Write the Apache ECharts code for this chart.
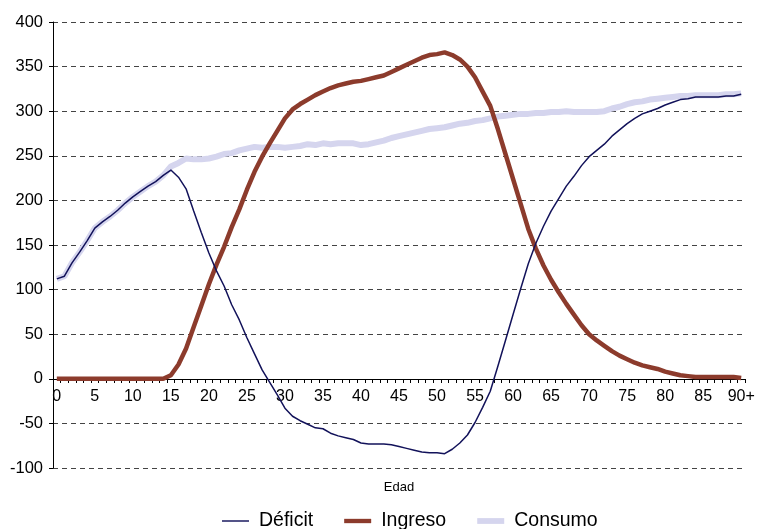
<!DOCTYPE html>
<html>
<head>
<meta charset="utf-8">
<script src="https://cdn.jsdelivr.net/npm/echarts@6/dist/echarts.min.js"></script>
<style>
  html, body { margin: 0; padding: 0; background: #fff; }
  #chart { width: 757px; height: 529px; }
</style>
</head>
<body>
<div id="chart"></div>
<script>
const ages = [];
for (let a = 0; a <= 90; a++) ages.push(a === 90 ? "90+" : String(a));

const consumo = [
  112, 115, 130, 142, 155, 169, 176, 182, 189, 197,
  204, 210, 216, 221, 228, 238, 242, 247, 246, 246,
  247, 249, 252, 253, 256, 258, 260, 259, 260, 260,
  259, 260, 261, 263, 262, 264, 263, 264, 264, 264,
  262, 263, 265, 267, 270, 272, 274, 276, 278, 280,
  281, 282, 284, 286, 287, 289, 290, 292, 294, 295,
  296, 297, 297, 298, 298, 299, 299, 300, 299, 299,
  299, 299, 300, 303, 305, 308, 310, 311, 313, 314,
  315, 316, 317, 317, 318, 318, 318, 318, 319, 319,
  320
];

const ingreso = [
  0, 0, 0, 0, 0, 0, 0, 0, 0, 0,
  0, 0, 0, 0, 0, 4, 16, 34, 58, 82,
  106, 128, 148, 170, 190, 212, 232, 249, 264, 278,
  292, 302, 308, 313, 318, 322, 326, 329, 331, 333,
  334, 336, 338, 340, 344, 348, 352, 356, 360, 363,
  364, 366, 363, 358, 350, 338, 322, 306, 280, 252,
  224, 196, 168, 146, 127, 111, 97, 84, 72, 60,
  50, 43, 37, 31, 26, 22, 18, 15, 13, 11,
  8, 6, 4, 3, 2, 2, 2, 2, 2, 2,
  1
];

const deficit = [
  112, 115, 130, 142, 155, 169, 176, 182, 189, 197,
  204, 210, 216, 221, 228, 234, 226, 213, 188, 164,
  141, 121, 104, 83, 66, 46, 28, 10, -4, -18,
  -33, -42, -47, -51, -55, -56, -61, -64, -66, -68,
  -72, -73, -73, -73, -74, -76, -78, -80, -82, -83,
  -83, -84, -79, -72, -63, -49, -32, -14, 14, 43,
  72, 101, 129, 152, 171, 188, 202, 216, 227, 239,
  249, 256, 263, 272, 279, 286, 292, 297, 300, 303,
  307, 310, 313, 314, 316, 316, 316, 316, 317, 317,
  319
];

const COLORS = {
  deficit: "#12125a",
  ingreso: "#8c3b2c",
  consumo: "#d5d5ee",
};

const FONT = "Liberation Sans, Arial, sans-serif";

// legend icons: flat bars of the same thickness as each line
const ICON = {
  deficit: "path://M0,0H28V1.5H0Z",
  ingreso: "path://M0,0H28V4.5H0Z",
  consumo: "path://M0,0H28V6H0Z",
};

const Y_MIN = -100;
const Y_MAX = 400;
const GRID = { left: 53, right: 12, top: 22, bottom: 61 };
const plotH = 529 - GRID.top - GRID.bottom;
// x axis sits on the zero line: shift it up from the grid bottom
const zeroOffset = -Math.round(plotH * (0 - Y_MIN) / (Y_MAX - Y_MIN));

const chart = echarts.init(document.getElementById("chart"));
chart.setOption({
  animation: false,
  textStyle: { fontFamily: FONT },
  grid: { ...GRID, outerBoundsMode: "none", containLabel: false },
  legend: {
    data: [
      { name: "Déficit", icon: ICON.deficit },
      { name: "Ingreso", icon: ICON.ingreso },
      { name: "Consumo", icon: ICON.consumo },
    ],
    top: 511,
    left: 222,
    padding: 0,
    itemWidth: 27,
    itemHeight: 10,
    itemGap: 31,
    symbolKeepAspect: true,
    textStyle: { fontSize: 19.5, color: "#000", fontFamily: FONT, padding: [0, 0, 0, 5] },
  },
  xAxis: {
    type: "category",
    data: ages,
    boundaryGap: true,
    offset: zeroOffset,
    name: "Edad",
    nameLocation: "middle",
    nameGap: 102,
    nameTextStyle: { fontSize: 13, color: "#000" },
    axisLine: { onZero: false, lineStyle: { color: "#000", width: 1 } },
    axisTick: { show: true, interval: 0, length: 4, lineStyle: { color: "#000" } },
    axisLabel: {
      interval: 4,
      fontSize: 16,
      color: "#000",
      margin: 10,
      showMaxLabel: true,
    },
    splitLine: { show: false },
  },
  yAxis: {
    type: "value",
    min: Y_MIN,
    max: Y_MAX,
    interval: 50,
    axisLine: { show: true, lineStyle: { color: "#000", width: 1 } },
    axisTick: { show: true, length: 4, lineStyle: { color: "#000" } },
    axisLabel: { fontSize: 16.5, color: "#000", margin: 10 },
    splitLine: { lineStyle: { color: "#444", type: [5, 4], width: 1 } },
  },
  series: [
    {
      name: "Consumo",
      type: "line",
      data: consumo,
      symbol: "none",
      lineStyle: { width: 6, color: COLORS.consumo },
      itemStyle: { color: COLORS.consumo },
      z: 2,
    },
    {
      name: "Ingreso",
      type: "line",
      data: ingreso,
      symbol: "none",
      lineStyle: { width: 4.5, color: COLORS.ingreso },
      itemStyle: { color: COLORS.ingreso },
      z: 3,
    },
    {
      name: "Déficit",
      type: "line",
      data: deficit,
      symbol: "none",
      lineStyle: { width: 1.5, color: COLORS.deficit },
      itemStyle: { color: COLORS.deficit },
      z: 4,
    },
  ],
});
</script>
</body>
</html>
